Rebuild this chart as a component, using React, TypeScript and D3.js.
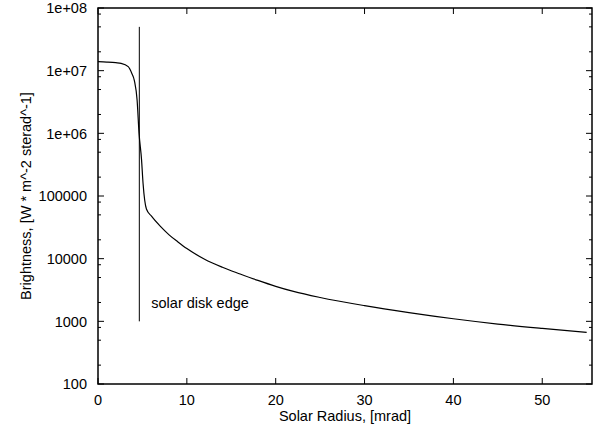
import React from "react";
import * as d3 from "d3";

// radius in mrad vs brightness
const radius = [
  0, 1, 2, 2.6, 3.4, 3.8, 4.1, 4.4, 4.62, 4.9, 5.07, 5.45, 6, 7, 8, 9, 10, 12,
  14, 16, 18, 20, 22, 25, 30, 35, 40, 45, 50, 55,
];
const brightness = [
  1.39e7, 1.37e7, 1.34e7, 1.31e7, 1.16e7, 9.1e6, 6.9e6, 3.4e6, 1e6, 3.8e5,
  1.6e5, 6.2e4, 4.8e4, 3.3e4, 2.4e4, 1.85e4, 1.45e4, 9.8e3, 7.3e3, 5.7e3,
  4.5e3, 3.62e3, 3.0e3, 2.4e3, 1.78e3, 1.38e3, 1.1e3, 905, 770, 665,
];

// disk edge marker
const edgeX = 4.65;
const edgeY = [1000, 5e7];
const edgeLabel = "solar disk edge";
const labelPos = [6, 2000];

const xTicks = [0, 10, 20, 30, 40, 50];
const yTicks = [100, 1000, 10000, 100000, 1e6, 1e7, 1e8];
const yTickLabels = ["100", "1000", "10000", "100000", "1e+06", "1e+07", "1e+08"];
const minorMult = [2, 5, 8];

const W = 599,
  H = 427;
const left = 98,
  right = 592,
  top = 8,
  bottom = 384;
const font = "'Liberation Sans', Arial, Helvetica, sans-serif";
const fs = 14.5;

export default function App() {
  const x = d3.scaleLinear().domain([0, 55.6]).range([left, right]);
  const y = d3.scaleLog().domain([100, 1e8]).range([bottom, top]);

  const pts = radius.map((r, i) => [r, brightness[i]] as [number, number]);
  const line = d3
    .line<[number, number]>()
    .x((d) => x(d[0]))
    .y((d) => y(d[1]))
    .curve(d3.curveMonotoneX);

  const minors: number[] = [];
  for (let k = 2; k < 8; k++) {
    minorMult.forEach((m) => minors.push(m * Math.pow(10, k)));
  }

  return (
    <svg
      width={W}
      height={H}
      style={{ position: "absolute", left: 0, top: 0, background: "#fff" }}
      fontFamily={font}
      fontSize={fs}
    >
      <rect x={0} y={0} width={W} height={H} fill="#fff" />
      <g stroke="#000" strokeWidth={1}>
        {/* y ticks, both sides */}
        {yTicks.map((t) => (
          <g key={"y" + t}>
            <line x1={left} x2={left + 6} y1={y(t)} y2={y(t)} />
            <line x1={right} x2={right - 6} y1={y(t)} y2={y(t)} />
          </g>
        ))}
        {minors.map((t) => (
          <g key={"m" + t}>
            <line x1={left} x2={left + 3} y1={y(t)} y2={y(t)} />
            <line x1={right} x2={right - 3} y1={y(t)} y2={y(t)} />
          </g>
        ))}
        {/* x ticks, both sides */}
        {xTicks.map((t) => (
          <g key={"x" + t}>
            <line x1={x(t)} x2={x(t)} y1={bottom} y2={bottom - 6} />
            <line x1={x(t)} x2={x(t)} y1={top} y2={top + 6} />
          </g>
        ))}
      </g>

      {/* tick labels */}
      {yTicks.map((t, i) => (
        <text
          key={"yl" + t}
          x={left - 11}
          y={y(t)}
          dy="0.36em"
          textAnchor="end"
          fill="#000"
        >
          {yTickLabels[i]}
        </text>
      ))}
      {xTicks.map((t) => (
        <text key={"xl" + t} x={x(t)} y={405} textAnchor="middle" fill="#000">
          {t}
        </text>
      ))}

      {/* axis labels */}
      <text x={(left + right) / 2} y={421} textAnchor="middle" fill="#000">
        Solar Radius, [mrad]
      </text>
      <text
        transform={`translate(31, ${(top + bottom) / 2}) rotate(-90)`}
        textAnchor="middle"
        fill="#000"
      >
        Brightness, [W * m^-2 sterad^-1]
      </text>

      {/* edge marker */}
      <line
        x1={x(edgeX)}
        x2={x(edgeX)}
        y1={y(edgeY[0])}
        y2={y(edgeY[1])}
        stroke="#000"
        strokeWidth={1}
      />
      <text x={x(labelPos[0])} y={y(labelPos[1])} dy="0.36em" fill="#000">
        {edgeLabel}
      </text>

      {/* curve */}
      <path d={line(pts) || ""} fill="none" stroke="#000" strokeWidth={1.2} />

      {/* border */}
      <rect
        x={left}
        y={top}
        width={right - left}
        height={bottom - top}
        fill="none"
        stroke="#000"
        strokeWidth={1.5}
      />
    </svg>
  );
}
